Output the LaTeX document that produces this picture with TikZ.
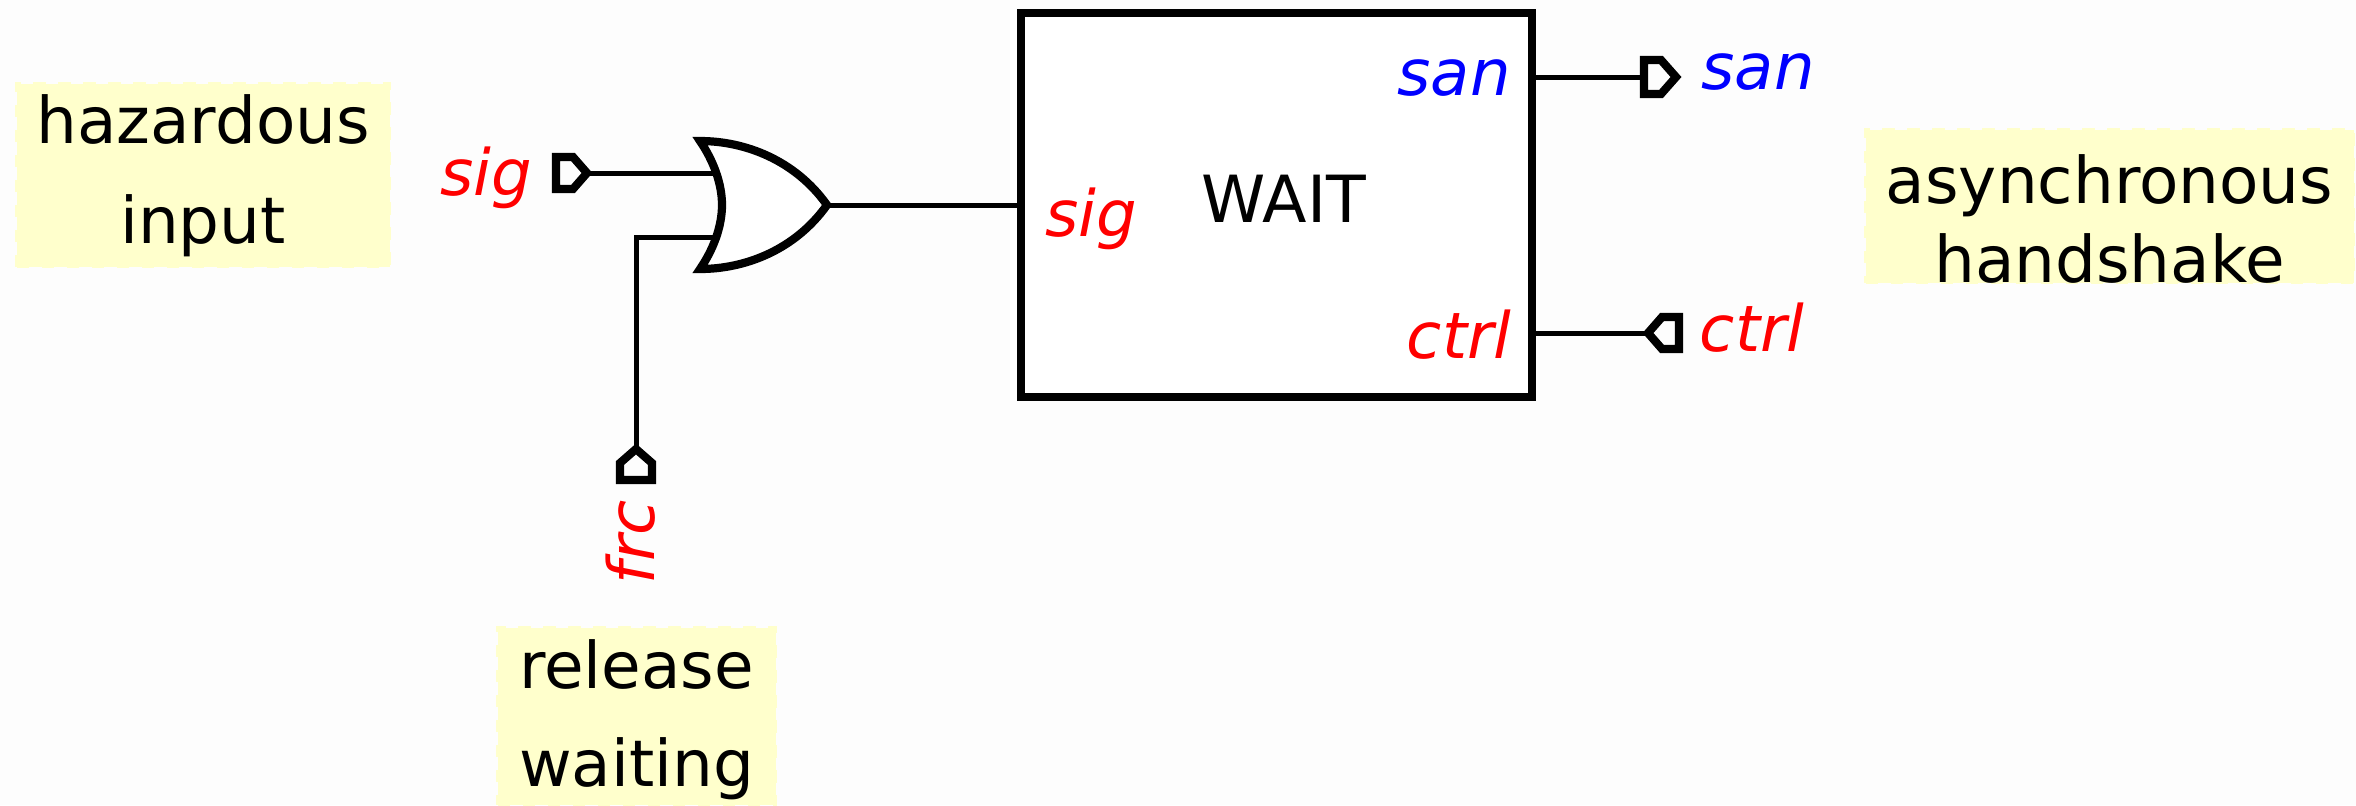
\documentclass[tikz,border=0pt]{standalone}
\usepackage{fontspec}
\setmainfont{DejaVu Sans}
\definecolor{pagebg}{HTML}{FDFDFD}
\definecolor{notebg}{HTML}{FFFFCC}
\newcommand{\notefont}[2][32.2]{\fontsize{#1}{#2}\selectfont}
\tikzset{
  wire/.style={line width=2.5pt},
  pinline/.style={line width=4.1pt,fill=pagebg},
  gateline/.style={line width=4.1pt,fill=white},
  waitbox/.style={draw,line width=4pt,fill=white,minimum width=255.75pt,minimum height=192pt},
  sigtext/.style={inner sep=0pt,anchor=base,font=\notefont[32.5]{38}},
  inputlbl/.style={sigtext,red,font=\notefont[32]{38}\itshape},
  outputlbl/.style={sigtext,blue,font=\notefont[32]{38}\itshape},
  note/.style={draw=notebg,fill=notebg,line width=1.5pt,dash pattern=on 6.25pt off 6.25pt,
    text=black,inner sep=0pt,anchor=north west,align=center}
}
\begin{document}
\begin{tikzpicture}[x=0.5pt,y=-0.5pt]
\path[fill=pagebg,use as bounding box] (0,0) rectangle (2356,805);
\node[note,minimum width=186.5pt,font=\notefont{50},text height=80pt,text depth=11.5pt] (hazardnote) at (15,82) {hazardous\\input};
\node[note,minimum width=244pt,font=\notefont{39.5},text height=76.5pt,text depth=0pt] (asyncnote) at (1864,128) {asynchronous\\handshake};
\node[note,minimum width=139pt,font=\notefont{49},text height=79.5pt,text depth=9pt] (releasenote) at (496,626) {release\\waiting};
\coordinate (sigtip) at (587,173);
\coordinate (sigend) at (716,173);
\coordinate (frctip) at (636,449);
\coordinate (frcbend) at (636,237);
\coordinate (frcend) at (716,237);
\coordinate (gateout) at (827,205);
\coordinate (santip) at (1644,77);
\coordinate (ctrltip) at (1648,333);
\node[waitbox] (wait) at (1276.25,205) {};
\node[sigtext] (waitname) at (1284,222) {WAIT};
\draw[wire] (sigtip) -- (sigend);
\draw[wire] (frctip) -- (frcbend) -- (frcend);
\draw[wire] (gateout) -- (gateout -| wait.west);
\draw[wire] (santip -| wait.east) -- (santip);
\draw[wire] (ctrltip -| wait.east) -- (ctrltip);
\draw[gateline] (700,141) .. controls (713,160) and (722,183) .. (722,205)
  .. controls (722,227) and (713,250) .. (700,269)
  .. controls (745,269) and (795,250) .. (gateout)
  .. controls (795,160) and (745,141) .. cycle;
\foreach \pinname/\pinangle in {sigtip/0,frctip/90,ctrltip/180}
  \draw[pinline,shift={(\pinname)},rotate=\pinangle] (0,0) -- (-14,-16) -- (-31,-16) -- (-31,16) -- (-14,16) -- cycle;
\draw[pinline] (1644,60) -- (1661,60) -- (1676,77) -- (1661,94) -- (1644,94) -- cycle;
\node[inputlbl] (siglbl) at (486,195) {sig};
\node[inputlbl,rotate=90] (frclbl) at (654,542) {frc};
\node[inputlbl] (waitsig) at (1091,236) {sig};
\node[outputlbl] (waitsan) at (1454,95) {san};
\node[inputlbl] (waitctrl) at (1459,358) {ctrl};
\node[outputlbl] (sanlbl) at (1758,89) {san};
\node[inputlbl] (ctrllbl) at (1752,351) {ctrl};
\end{tikzpicture}
\end{document}
